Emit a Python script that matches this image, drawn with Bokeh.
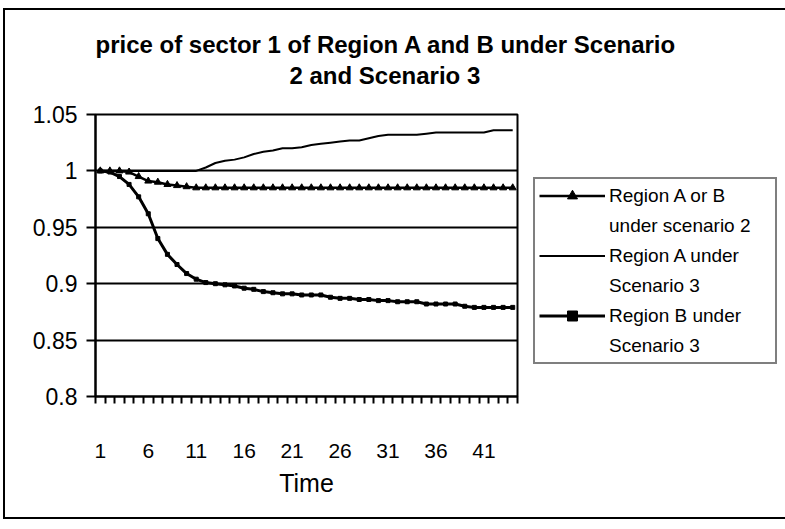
from bokeh.plotting import figure
from bokeh.models import Range1d, FixedTicker, Legend, LegendItem, Title
from bokeh.embed import file_html
from bokeh.resources import INLINE

# ---- data ----
time = list(range(1, 45))

region_ab_s2 = [1.000, 1.000, 1.000, 0.999, 0.995, 0.991, 0.990, 0.988, 0.987, 0.986,
                0.985, 0.985, 0.985, 0.985, 0.985, 0.985, 0.985, 0.985, 0.985, 0.985,
                0.985, 0.985, 0.985, 0.985, 0.985, 0.985, 0.985, 0.985, 0.985, 0.985,
                0.985, 0.985, 0.985, 0.985, 0.985, 0.985, 0.985, 0.985, 0.985, 0.985,
                0.985, 0.985, 0.985, 0.985]

region_a_s3 = [1.000, 1.000, 1.000, 1.000, 1.000, 1.000, 1.000, 1.000, 1.000, 1.000,
               1.000, 1.003, 1.007, 1.009, 1.010, 1.012, 1.015, 1.017, 1.018, 1.020,
               1.020, 1.021, 1.023, 1.024, 1.025, 1.026, 1.027, 1.027, 1.029, 1.031,
               1.032, 1.032, 1.032, 1.032, 1.033, 1.034, 1.034, 1.034, 1.034, 1.034,
               1.034, 1.036, 1.036, 1.036]

region_b_s3 = [1.000, 0.999, 0.995, 0.988, 0.977, 0.962, 0.940, 0.926, 0.917, 0.909,
               0.904, 0.901, 0.900, 0.899, 0.898, 0.896, 0.895, 0.893, 0.892, 0.891,
               0.891, 0.890, 0.890, 0.890, 0.888, 0.887, 0.887, 0.886, 0.886, 0.885,
               0.885, 0.884, 0.884, 0.884, 0.882, 0.882, 0.882, 0.882, 0.880, 0.879,
               0.879, 0.879, 0.879, 0.879]

x_tick_labels = [1, 6, 11, 16, 21, 26, 31, 36, 41]
y_ticks = [0.8, 0.85, 0.9, 0.95, 1.0, 1.05]
y_tick_labels = ["0.8", "0.85", "0.9", "0.95", "1", "1.05"]
series_names = [("Region A or B", "under scenario 2"),
                ("Region A under", "Scenario 3"),
                ("Region B under", "Scenario 3")]
title_lines = ["price of sector 1 of Region A and B under Scenario",
               "2 and Scenario 3"]
x_label = "Time"

FONT = "Liberation Sans"

p = figure(frame_width=422, frame_height=282,
           min_border_left=90, min_border_right=264,
           min_border_top=104, min_border_bottom=121,
           x_range=Range1d(time[0] - 0.5, time[-1] + 0.5),
           y_range=Range1d(y_ticks[0], y_ticks[-1]),
           output_backend="svg", toolbar_location=None)
p.margin = (8, 0, 0, 3)
p.styles = {"border": "2px solid black"}

# title: two lines, second line nearest the plot
p.add_layout(Title(text=title_lines[1], align="left", offset=194,
                   text_font=FONT, text_font_size="24px", text_font_style="bold",
                   text_color="black", standoff=51), "above")
p.add_layout(Title(text=title_lines[0], align="left", offset=0,
                   text_font=FONT, text_font_size="24px", text_font_style="bold",
                   text_color="black", standoff=-47), "above")

p.background_fill_color = "white"
p.border_fill_color = "white"
p.outline_line_color = "black"
p.outline_line_width = 2

# grid
p.xgrid.visible = False
p.ygrid.grid_line_color = "black"
p.ygrid.grid_line_width = 2

# x axis
boundaries = [t - 0.5 for t in time] + [time[-1] + 0.5]
xa = p.xaxis[0]
xa.ticker = FixedTicker(ticks=x_tick_labels, minor_ticks=boundaries)
xa.major_tick_in = 0
xa.major_tick_out = 0
xa.minor_tick_in = 0
xa.minor_tick_out = 7
xa.minor_tick_line_width = 2
xa.minor_tick_line_color = "black"
xa.axis_line_width = 2
xa.axis_line_color = "black"
xa.major_label_standoff = 40
xa.major_label_text_font = FONT
xa.major_label_text_font_size = "21px"
xa.major_label_text_color = "black"
xa.axis_label = x_label
xa.axis_label_text_font = FONT
xa.axis_label_text_font_size = "25px"
xa.axis_label_text_font_style = "normal"
xa.axis_label_text_color = "black"
xa.axis_label_standoff = 8

# y axis
ya = p.yaxis[0]
ya.ticker = FixedTicker(ticks=y_ticks)
ya.major_label_overrides = {t: s for t, s in zip(y_ticks, y_tick_labels)}
ya.major_tick_in = 0
ya.major_tick_out = 9
ya.major_tick_line_width = 2
ya.minor_tick_line_color = None
ya.axis_line_width = 2
ya.axis_line_color = "black"
ya.major_label_standoff = 9
ya.major_label_text_font = FONT
ya.major_label_text_font_size = "23px"
ya.major_label_text_color = "black"

# series
l1 = p.line(time, region_ab_s2, line_color="black", line_width=2.5)
m1 = p.scatter(time, region_ab_s2, marker="triangle", size=7,
               fill_color="black", line_color="black")
l2 = p.line(time, region_a_s3, line_color="black", line_width=2)
l3 = p.line(time, region_b_s3, line_color="black", line_width=3)
m3 = p.scatter(time, region_b_s3, marker="square", size=4,
               fill_color="black", line_color="black")

# blank renderer used for the second line of each two-line legend entry
blank = p.line([], [], line_alpha=0)

items = []
for (first, second), rends in zip(series_names, [[l1, m1], [l2], [l3, m3]]):
    items.append(LegendItem(label=first, renderers=rends))
    items.append(LegendItem(label=second, renderers=[blank]))

legend = Legend(items=items, location=(16, 32))
legend.label_text_font = FONT
legend.label_text_font_size = "19px"
legend.label_text_color = "black"
legend.label_height = 25
legend.glyph_height = 25
legend.label_width = 162
legend.glyph_width = 66
legend.label_standoff = 4
legend.spacing = 5
legend.padding = 4
legend.margin = 0
legend.border_line_color = "black"
legend.border_line_width = 2
legend.background_fill_color = "white"
p.add_layout(legend, "right")

open("out.html", "w").write(file_html(p, INLINE))
